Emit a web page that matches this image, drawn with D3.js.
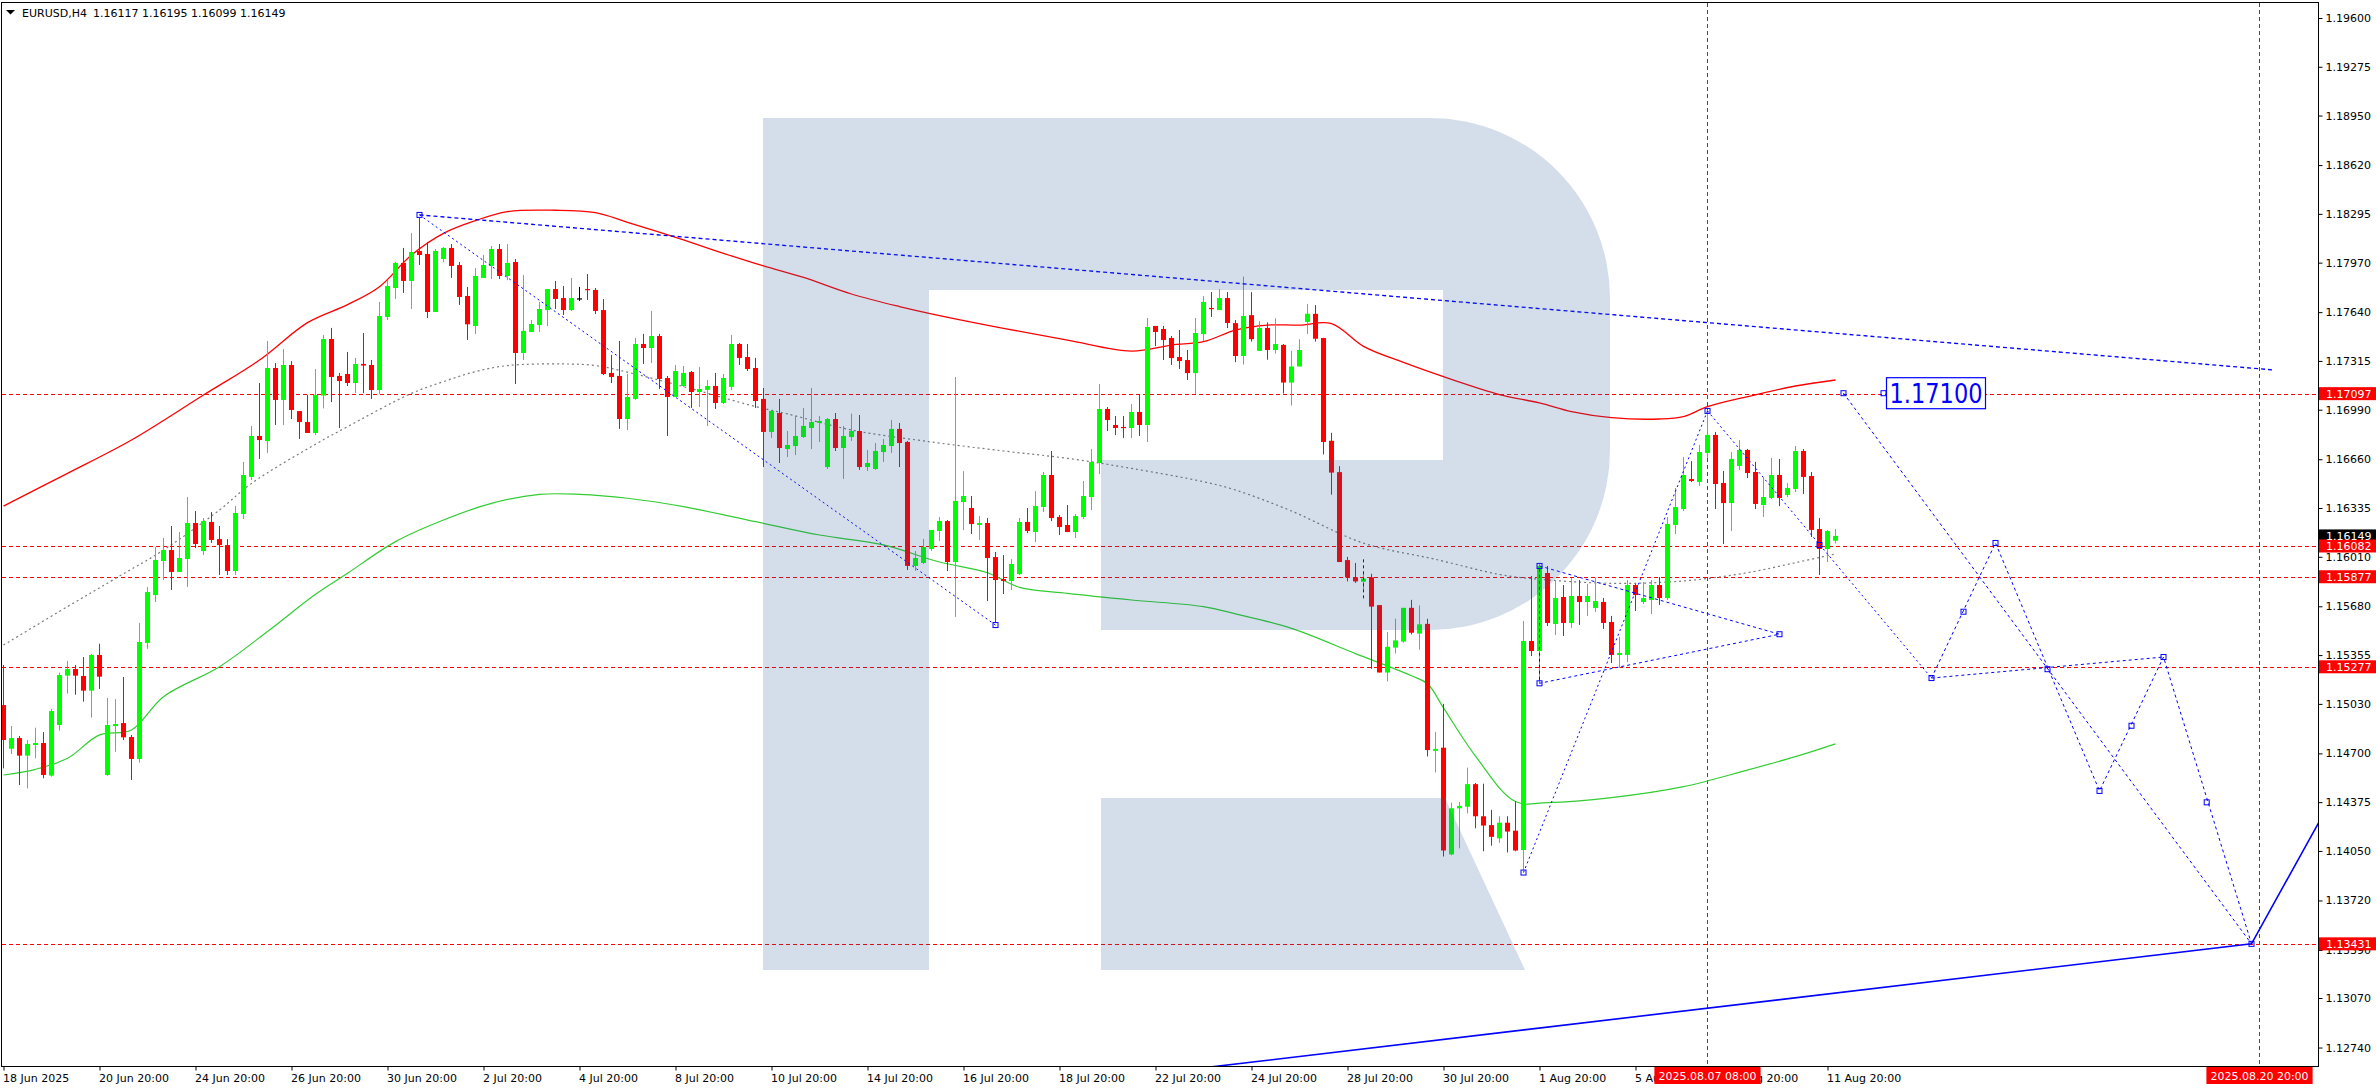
<!DOCTYPE html>
<html><head><meta charset="utf-8">
<script src="https://cdn.jsdelivr.net/npm/d3@7"></script>
<style>
html,body{margin:0;padding:0;background:#fff;}
svg{display:block;font-family:"DejaVu Sans",Verdana,sans-serif;}
</style></head><body>
<svg id="chart" width="2376" height="1090"></svg>
<script>
// ---------- DATA (EURUSD H4, one entry per bar, index 0 = 18 Jun 2025 20:00) ----------
const opens = [1.15022,1.14731,1.14802,1.14685,1.14756,1.14769,1.14552,1.14889,1.15218,1.15262,
1.15216,1.15118,1.15356,1.14556,1.14882,1.14902,1.14809,1.14663,1.15436,1.15755,
1.15982,1.16055,1.15909,1.15995,1.16235,1.16048,1.16242,1.16128,1.16088,1.15915,
1.16295,1.16542,1.16815,1.16781,1.17268,1.17055,1.17288,1.16981,1.16908,1.16835,
1.17084,1.17461,1.17215,1.17228,1.17168,1.17295,1.17288,1.17121,1.17608,1.17801,
1.17968,1.17848,1.18048,1.18028,1.17641,1.17994,1.18068,1.17954,1.17748,1.17548,
1.17868,1.17948,1.18061,1.17881,1.17974,1.17368,1.17508,1.17554,1.17654,1.17794,
1.17734,1.17654,1.17732,1.17794,1.17788,1.17654,1.17235,1.17215,1.16928,1.17062,
1.17428,1.17401,1.17481,1.17201,1.17075,1.17148,1.17241,1.17108,1.17122,1.17148,
1.17035,1.17142,1.17428,1.17341,1.17268,1.17062,1.16842,1.16968,1.16728,1.16748,
1.16808,1.16868,1.16902,1.16608,1.16928,1.16735,1.16808,1.16848,1.16608,1.16595,
1.16708,1.16748,1.16862,1.16775,1.15949,1.15969,1.16062,1.16182,1.16248,1.15975,
1.16375,1.16335,1.16222,1.16235,1.16008,1.15862,1.15849,1.15895,1.16242,1.16175,
1.16342,1.16555,1.16275,1.16222,1.16175,1.16275,1.16408,1.16635,1.16995,1.16888,
1.16875,1.16868,1.16975,1.16888,1.17548,1.17528,1.17468,1.17341,1.17321,1.17234,
1.17494,1.17668,1.17654,1.17734,1.17567,1.17348,1.17620,1.17382,1.17535,1.17388,
1.17422,1.17171,1.17278,1.17575,1.17629,1.17468,1.16783,1.16574,1.15988,1.15873,
1.15844,1.15873,1.15688,1.15239,1.15405,1.15445,1.15670,1.15498,1.15563,1.14717,
1.14738,1.14027,1.14334,1.14345,1.14495,1.14281,1.14222,1.14134,1.14238,1.14185,
1.14056,1.15449,1.15382,1.15902,1.15562,1.15742,1.15569,1.15749,1.15709,1.15669,
1.15709,1.15576,1.15356,1.15356,1.15822,1.15709,1.15722,1.15822,1.15735,1.16222,
1.16328,1.16528,1.16508,1.16702,1.16822,1.16502,1.16368,1.16615,1.16722,1.16575,
1.16355,1.16402,1.16555,1.16422,1.16462,1.16715,1.16548,1.16195,1.16062,1.16117];
const highs = [1.15289,1.14882,1.14816,1.14789,1.14871,1.14842,1.14996,1.15238,1.15316,1.15289,
1.15342,1.15362,1.15431,1.15069,1.15062,1.15209,1.14823,1.15569,1.15809,1.16075,
1.16135,1.16215,1.16175,1.16408,1.16315,1.16268,1.16308,1.16215,1.16128,1.16348,
1.16642,1.16881,1.17168,1.17448,1.17301,1.17394,1.17314,1.16981,1.17088,1.17261,
1.17488,1.17535,1.17235,1.17375,1.17335,1.17501,1.17321,1.17708,1.17854,1.17975,
1.18068,1.18167,1.18267,1.18108,1.18061,1.18074,1.18094,1.17974,1.17808,1.17934,
1.18021,1.18081,1.18094,1.18094,1.17994,1.17888,1.17588,1.17708,1.17794,1.17848,
1.17814,1.17868,1.17808,1.17894,1.17801,1.17728,1.17355,1.17448,1.17228,1.17468,
1.17495,1.17648,1.17495,1.17215,1.17288,1.17281,1.17248,1.17275,1.17188,1.17235,
1.17228,1.17488,1.17435,1.17428,1.17335,1.17135,1.16988,1.17062,1.16848,1.16948,
1.17002,1.17135,1.16948,1.16935,1.16968,1.16882,1.16964,1.16955,1.16722,1.16768,
1.16795,1.16922,1.16902,1.16782,1.16049,1.16129,1.16189,1.16275,1.16255,1.17208,
1.16581,1.16415,1.16282,1.16268,1.16042,1.16022,1.15995,1.16268,1.16335,1.16448,
1.16575,1.16715,1.16288,1.16355,1.16295,1.16515,1.16728,1.17161,1.17008,1.16948,
1.16948,1.17028,1.17095,1.17601,1.17548,1.17548,1.17481,1.17521,1.17388,1.17601,
1.17748,1.17774,1.17794,1.17774,1.17588,1.17877,1.17773,1.17580,1.17572,1.17599,
1.17428,1.17382,1.17460,1.17695,1.17687,1.17468,1.16836,1.16614,1.16010,1.15969,
1.15913,1.15897,1.15688,1.15509,1.15597,1.15670,1.15723,1.15686,1.15597,1.14843,
1.15030,1.14372,1.14377,1.14605,1.14503,1.14498,1.14324,1.14281,1.14281,1.14380,
1.15582,1.15882,1.15962,1.15949,1.15855,1.15822,1.15869,1.15855,1.15829,1.15869,
1.15735,1.15616,1.15476,1.15855,1.15829,1.15842,1.15855,1.15875,1.16275,1.16468,
1.16675,1.16648,1.16755,1.16988,1.16842,1.16582,1.16708,1.16788,1.16728,1.16642,
1.16535,1.16668,1.16662,1.16502,1.16748,1.16728,1.16575,1.16268,1.16189,1.16195];
const lows = [1.14600,1.14696,1.14489,1.14467,1.14667,1.14534,1.14545,1.14851,1.15098,1.15091,
1.15045,1.14938,1.15129,1.14550,1.14711,1.14789,1.14523,1.14638,1.15396,1.15709,
1.15855,1.15789,1.15909,1.15809,1.16068,1.16022,1.16102,1.15889,1.15889,1.15889,
1.16262,1.16522,1.16662,1.16701,1.16888,1.16888,1.16928,1.16795,1.16835,1.16821,
1.16999,1.17041,1.16868,1.17148,1.17101,1.17101,1.17061,1.17095,1.17588,1.17728,
1.17768,1.17661,1.17954,1.17601,1.17641,1.17974,1.17868,1.17688,1.17455,1.17495,
1.17868,1.17861,1.17861,1.17854,1.17161,1.17321,1.17508,1.17508,1.17548,1.17661,
1.17621,1.17648,1.17714,1.17721,1.17628,1.17221,1.17168,1.16862,1.16855,1.17055,
1.17295,1.17301,1.17128,1.16815,1.17075,1.17142,1.17002,1.17008,1.16882,1.16995,
1.17028,1.17122,1.17288,1.17248,1.17002,1.16608,1.16802,1.16635,1.16675,1.16688,
1.16802,1.16728,1.16775,1.16595,1.16715,1.16529,1.16782,1.16589,1.16582,1.16589,
1.16642,1.16702,1.16608,1.15922,1.15916,1.15962,1.16049,1.16115,1.15915,1.15609,
1.16188,1.16162,1.16122,1.15715,1.15575,1.15762,1.15789,1.15889,1.16168,1.16108,
1.16308,1.16248,1.16155,1.16175,1.16135,1.16262,1.16322,1.16561,1.16848,1.16821,
1.16801,1.16801,1.16815,1.16775,1.17414,1.17321,1.17288,1.17261,1.17188,1.17095,
1.17448,1.17608,1.17654,1.17534,1.17307,1.17291,1.17444,1.17382,1.17323,1.17364,
1.17099,1.17018,1.17278,1.17495,1.17444,1.16692,1.16424,1.15975,1.15846,1.15836,
1.15779,1.15263,1.15239,1.15180,1.15365,1.15437,1.15493,1.15391,1.14680,1.14573,
1.14013,1.14021,1.14067,1.14300,1.14201,1.14048,1.14085,1.14104,1.14040,1.14048,
1.13923,1.15349,1.15169,1.15549,1.15489,1.15482,1.15536,1.15556,1.15616,1.15642,
1.15529,1.15302,1.15269,1.15309,1.15649,1.15696,1.15629,1.15689,1.15722,1.16162,
1.16315,1.16508,1.16482,1.16668,1.16328,1.16095,1.16182,1.16588,1.16535,1.16328,
1.16275,1.16395,1.16348,1.16408,1.16442,1.16428,1.16142,1.15889,1.15975,1.16099];
const closes = [1.14789,1.14802,1.14685,1.14763,1.14769,1.14556,1.14982,1.15222,1.15262,1.15218,
1.15118,1.15356,1.15211,1.14889,1.14896,1.14807,1.14663,1.15442,1.15775,1.15989,
1.16055,1.15909,1.16002,1.16235,1.16095,1.16248,1.16122,1.16088,1.15915,1.16302,
1.16555,1.16815,1.16788,1.17268,1.17055,1.17288,1.16988,1.16908,1.16835,1.17088,
1.17461,1.17208,1.17181,1.17168,1.17295,1.17284,1.17121,1.17614,1.17814,1.17968,
1.17848,1.18041,1.18021,1.17641,1.18048,1.18068,1.17948,1.17741,1.17559,1.17881,
1.17954,1.18061,1.17881,1.17968,1.17368,1.17515,1.17561,1.17661,1.17794,1.17728,
1.17654,1.17734,1.17732,1.17788,1.17648,1.17228,1.17208,1.16928,1.17075,1.17428,
1.17401,1.17481,1.17195,1.17075,1.17248,1.17235,1.17108,1.17128,1.17148,1.17035,
1.17201,1.17428,1.17335,1.17261,1.17048,1.16842,1.16982,1.16735,1.16755,1.16815,
1.16882,1.16908,1.16915,1.16928,1.16735,1.16815,1.16848,1.16608,1.16635,1.16715,
1.16755,1.16862,1.16768,1.15949,1.16002,1.16075,1.16189,1.16249,1.15975,1.16382,
1.16415,1.16228,1.16235,1.16002,1.15855,1.15849,1.15962,1.16242,1.16182,1.16348,
1.16555,1.16268,1.16208,1.16175,1.16282,1.16415,1.16641,1.16995,1.16921,1.16868,
1.16870,1.16975,1.16888,1.17541,1.17508,1.17454,1.17334,1.17314,1.17234,1.17501,
1.17708,1.17665,1.17734,1.17568,1.17348,1.17615,1.17460,1.17535,1.17388,1.17428,
1.17171,1.17278,1.17388,1.17629,1.17463,1.16775,1.16571,1.15975,1.15873,1.15846,
1.15865,1.15678,1.15239,1.15410,1.15453,1.15670,1.15504,1.15560,1.14722,1.14730,
1.14053,1.14334,1.14350,1.14495,1.14281,1.14219,1.14144,1.14238,1.14179,1.14053,
1.15449,1.15382,1.15949,1.15569,1.15735,1.15569,1.15749,1.15709,1.15749,1.15715,
1.15569,1.15356,1.15369,1.15822,1.15755,1.15735,1.15822,1.15735,1.16229,1.16342,
1.16555,1.16515,1.16708,1.16822,1.16495,1.16368,1.16662,1.16722,1.16568,1.16362,
1.16408,1.16555,1.16402,1.16468,1.16715,1.16542,1.16189,1.16062,1.16182,1.16149];

// moving averages, read at sample bars
const maRedIdx = [0,8,16,25,32,38,43,47,51,55,59,63,69,74,78,85,90,95,100,106,112,117,125,133,141,146,150,154,158,162,166,170,175,181,187,192,196,201,207,210,213,218,224,229];
const maRedVal = [1.16348,1.16566,1.16788,1.17088,1.17321,1.17570,1.17690,1.17810,1.18021,1.18165,1.18250,1.18310,1.18319,1.18303,1.18239,1.18121,1.18032,1.17948,1.17872,1.17761,1.17677,1.17617,1.17532,1.17454,1.17381,1.17421,1.17443,1.17521,1.17554,1.17554,1.17564,1.17412,1.17305,1.17192,1.17091,1.17035,1.16977,1.16937,1.16928,1.16944,1.17010,1.17077,1.17148,1.17188];
const maGreenIdx = [0,4,8,12,16,20,27,33,39,43,49,55,61,67,72,78,85,94,102,110,117,123,127,133,141,150,154,161,169,176,178,180,184,189,193,201,210,218,224,229];
const maGreenVal = [1.14556,1.14594,1.14667,1.14823,1.14856,1.15078,1.15278,1.15512,1.15760,1.15900,1.16111,1.16255,1.16366,1.16426,1.16426,1.16400,1.16344,1.16244,1.16155,1.16089,1.15975,1.15904,1.15806,1.15766,1.15722,1.15678,1.15630,1.15533,1.15365,1.15217,1.15164,1.15003,1.14682,1.14379,1.14372,1.14405,1.14478,1.14589,1.14678,1.14763];
const maGrayIdx = [0,8,14,20,27,31,39,43,51,55,59,63,70,74,78,85,94,98,106,115,125,133,141,150,154,161,170,179,187,191,201,210,218,224,229];
const maGrayVal = [1.15422,1.15678,1.15866,1.16055,1.16322,1.16499,1.16760,1.16877,1.17099,1.17177,1.17244,1.17284,1.17295,1.17284,1.17240,1.17144,1.17011,1.16962,1.16855,1.16782,1.16715,1.16666,1.16599,1.16510,1.16455,1.16315,1.16101,1.15993,1.15892,1.15865,1.15833,1.15849,1.15904,1.15971,1.16029];

// horizontal levels and vertical time markers
const levelPrices = [1.17097,1.16082,1.15877,1.15277,1.13431];
const currentPrice = 1.16149;
const vLineIdx = [213,282];
const vLineText = ["2025.08.07 08:00","2025.08.20 20:00"];

// axis labels
const yTickValues = [1.19600,1.19275,1.18950,1.18620,1.18295,1.17970,1.17640,1.17315,1.16990,1.16660,1.16335,1.16010,1.15680,1.15355,1.15030,1.14700,1.14375,1.14050,1.13720,1.13390,1.13070,1.12740];
const xTickIdx = [0,12,24,36,48,60,72,84,96,108,120,132,144,156,168,180,192,204,216,228];
const xTickText = ["18 Jun 2025","20 Jun 20:00","24 Jun 20:00","26 Jun 20:00","30 Jun 20:00","2 Jul 20:00","4 Jul 20:00","8 Jul 20:00","10 Jul 20:00","14 Jul 20:00","16 Jul 20:00","18 Jul 20:00","22 Jul 20:00","24 Jul 20:00","28 Jul 20:00","30 Jul 20:00","1 Aug 20:00","5 Aug 20:00","7 Aug 20:00","11 Aug 20:00"];

// drawn objects (bar index, price)
const trendTop = [[52,1.18288],[283.7,1.17255]];
const channelDown = [[52,1.18288],[124,1.15555]];
const triangle = [[192,1.15949],[222,1.15494],[192,1.15167],[192,1.15949]];
const riseLine = [[190,1.13906],[213,1.16982]];
const fallLine = [[213,1.16982],[241,1.15202]];
const zigzag = [[241,1.15202],[249,1.16102],[262,1.14450],[270,1.15342],[281,1.13431]];
const flatLine = [[241,1.15202],[270,1.15342]];
const forecastLine = [[230,1.17100],[281,1.13431]];
const solidLine = [[150,1.12605],[281,1.13431],[291,1.14393]];
const smallMark = [[170,1.15993],[170,1.15726]];
const markerPts = [[52,1.18288],[124,1.15555],[190,1.13906],[213,1.16982],[227,1.16089],[241,1.15202],[249,1.16102],[262,1.14450],[270,1.15342],[281,1.13431],[230,1.17100],[192,1.15949],[192,1.15167],[222,1.15494],[235,1.17100],[245,1.15644],[266,1.14884],[275.4,1.14374],[255.5,1.15261]];
const targetLabel = {idx:235, price:1.17100, text:"1.17100"};
const header = {symbol:"EURUSD,H4", ohlc:"1.16117 1.16195 1.16099 1.16149"};

// ---------- DRAWING ----------
const svg = d3.select('#chart');
const L = 2, R = 2318, T = 3, B = 1066;
const x = d3.scaleLinear().domain([0,1]).range([3.5, 11.5]);
const y = d3.scaleLinear().domain([1.12617, 1.19700]).range([B, T]);

svg.append('defs').append('clipPath').attr('id','plotClip')
  .append('rect').attr('x',L).attr('y',T).attr('width',R-L).attr('height',B-T);

const plot = svg.append('g').attr('clip-path','url(#plotClip)');

// level lines
plot.selectAll('line.lvl').data(levelPrices).join('line')
  .attr('x1',L).attr('x2',R).attr('y1',d=>Math.round(y(d))+0.5).attr('y2',d=>Math.round(y(d))+0.5)
  .attr('stroke','#ff0000').attr('stroke-width',1).attr('stroke-dasharray','4,3');
plot.selectAll('line.vl').data(vLineIdx).join('line')
  .attr('x1',d=>x(d)).attr('x2',d=>x(d)).attr('y1',T).attr('y2',B)
  .attr('stroke','#ff0000').attr('stroke-width',1).attr('stroke-dasharray','4,3');

// moving averages
const line = d3.line().x(d=>x(d[0])).y(d=>y(d[1])).curve(d3.curveCatmullRom.alpha(0.5));
const zipPts = (a,b)=>a.map((v,k)=>[v,b[k]]);
plot.append('path').attr('d',line(zipPts(maGrayIdx,maGrayVal))).attr('fill','none')
  .attr('stroke','#7a7a7a').attr('stroke-width',1.2).attr('stroke-dasharray','2,3');
plot.append('path').attr('d',line(zipPts(maGreenIdx,maGreenVal))).attr('fill','none')
  .attr('stroke','#32cd32').attr('stroke-width',1.2);
plot.append('path').attr('d',line(zipPts(maRedIdx,maRedVal))).attr('fill','none')
  .attr('stroke','#ff0000').attr('stroke-width',1.3);

// candles
const bars = d3.range(opens.length).map(i=>({i,o:opens[i],h:highs[i],l:lows[i],c:closes[i]}));
const col = d=> d.c>d.o ? '#00ff00' : (d.c<d.o ? '#ff0000' : '#000000');
plot.selectAll('rect.wick').data(bars).join('rect').attr('class','wick')
  .attr('x',d=>x(d.i)-0.5).attr('width',1)
  .attr('y',d=>y(d.h)).attr('height',d=>Math.max(1,y(d.l)-y(d.h))).attr('fill',col);
plot.selectAll('rect.body').data(bars).join('rect').attr('class','body')
  .attr('x',d=>x(d.i)-2.5).attr('width',5)
  .attr('y',d=>Math.min(y(d.o),y(d.c))).attr('height',d=>Math.max(1.2,Math.abs(y(d.o)-y(d.c)))).attr('fill',col);

// drawn objects
const sline = d3.line().x(d=>x(d[0])).y(d=>y(d[1]));
const blue = '#0000ff';
plot.append('path').attr('d',sline(trendTop)).attr('fill','none').attr('stroke',blue).attr('stroke-width',1.3).attr('stroke-dasharray','4,3');
[channelDown,riseLine,fallLine].forEach(p=>plot.append('path').attr('d',sline(p)).attr('fill','none').attr('stroke',blue).attr('stroke-width',1).attr('stroke-dasharray','2,3'));
[triangle,zigzag,flatLine,forecastLine,smallMark].forEach(p=>plot.append('path').attr('d',sline(p)).attr('fill','none').attr('stroke',blue).attr('stroke-width',1).attr('stroke-dasharray','3,3'));
plot.append('path').attr('d',sline(solidLine)).attr('fill','none').attr('stroke',blue).attr('stroke-width',1.6);
plot.selectAll('rect.mk').data(markerPts).join('rect').attr('class','mk')
  .attr('x',d=>x(d[0])-2.5).attr('y',d=>y(d[1])-2.5).attr('width',5).attr('height',5)
  .attr('fill','#fff').attr('fill-opacity',0).attr('stroke',blue).attr('stroke-width',1);

// target price label
const tlx = x(targetLabel.idx)+3, tly = y(targetLabel.price);
plot.append('rect').attr('x',tlx).attr('y',tly-15.5).attr('width',99).attr('height',31)
  .attr('fill','#fff').attr('stroke',blue).attr('stroke-width',1.2);
plot.append('text').attr('x',tlx+3).attr('y',tly+10).attr('fill',blue)
  .attr('font-size',27).attr('textLength',93).attr('lengthAdjust','spacingAndGlyphs')
  .text(targetLabel.text);

// watermark (translucent logo over the chart)
const wm = plot.append('g').attr('fill','rgb(40,90,150)').attr('fill-opacity',0.2);
wm.append('path').attr('d','M763,118 H1430 A180,180 0 0 1 1610,298 V450 A180,180 0 0 1 1430,630 H1101 V460 H1443 V290 H929 V970 H763 Z');
wm.append('path').attr('d','M1101,798 H1445 L1525,970 H1101 Z');

// frame
svg.append('rect').attr('x',L-0.5).attr('y',T-0.5).attr('width',R-L+1).attr('height',B-T+1)
  .attr('fill','none').attr('stroke','#000').attr('stroke-width',1);

// right axis
const yAxis = svg.append('g').attr('transform',`translate(${R+0.5},0)`)
  .call(d3.axisRight(y).tickValues(yTickValues).tickFormat(d3.format('.5f')).tickSize(4).tickPadding(3));
yAxis.select('.domain').remove();
yAxis.selectAll('text').attr('font-size',11).attr('font-family','"DejaVu Sans",sans-serif').attr('fill','#000');
yAxis.selectAll('line').attr('stroke','#000');

// bottom axis
const xAxis = svg.append('g').attr('transform',`translate(0,${B+0.5})`)
  .call(d3.axisBottom(x).tickValues(xTickIdx).tickFormat((d,k)=>xTickText[k]).tickSize(4));
xAxis.select('.domain').remove();
xAxis.selectAll('text').attr('font-size',11).attr('font-family','"DejaVu Sans",sans-serif').attr('fill','#000')
  .attr('text-anchor','start').attr('x',-1).attr('y',15).attr('dy',0);
xAxis.selectAll('line').attr('stroke','#000');

// price tags on right axis
const tags = [{p:currentPrice,c:'#000000'}].concat(levelPrices.map(p=>({p,c:'#ff0000'})));
const tagG = svg.append('g');
tags.forEach(t=>{
  const yy = y(t.p);
  tagG.append('rect').attr('x',R+1).attr('y',yy-6.5).attr('width',2376-R-1).attr('height',13).attr('fill',t.c);
  tagG.append('text').attr('x',R+8).attr('y',yy+4).attr('font-size',11).attr('fill','#fff').text(d3.format('.5f')(t.p));
});

// time tags on bottom axis
vLineIdx.forEach((v,k)=>{
  const t = tagG.append('text').attr('font-size',11).attr('fill','#fff').text(vLineText[k]);
  const w = t.node().getComputedTextLength()+8;
  let bx = x(v)-w/2; if (bx+w > R-2) bx = R-2-w;
  tagG.insert('rect','text').attr('x',bx).attr('y',B+1).attr('width',w).attr('height',17).attr('fill','#ff0000');
  t.attr('x',bx+4).attr('y',B+14);
});
tagG.selectAll('text').raise();

// header
svg.append('path').attr('d','M6,10 L15,10 L10.5,14.5 Z').attr('fill','#000');
svg.append('text').attr('x',22).attr('y',17).attr('font-size',11).attr('fill','#000').text(header.symbol);
svg.append('text').attr('x',93).attr('y',17).attr('font-size',11).attr('fill','#000').text(header.ohlc);
</script>
</body></html>
